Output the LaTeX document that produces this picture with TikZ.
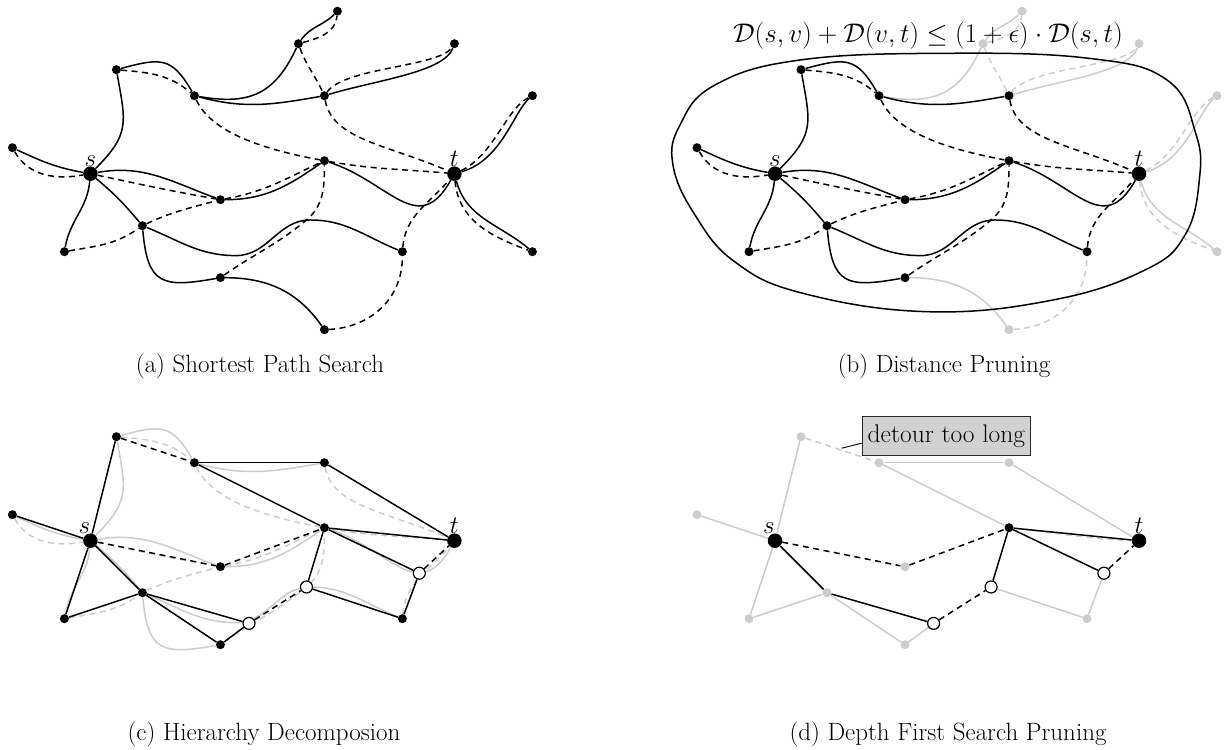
\RequirePackage{fix-cm}
\documentclass[tikz,border=0pt]{standalone}
\usepackage{fontspec}
\usetikzlibrary{calc}
\pgfdeclarelayer{edges}
\pgfsetlayers{edges,main}
\tikzset{
  sol/.style={draw=black, line width=1.5pt},
  dsh/.style={draw=black, line width=1.5pt, dash pattern=on 6pt off 4.5pt},
  gsol/.style={draw=black!20, line width=1.5pt},
  gdsh/.style={draw=black!20, line width=1.5pt, dash pattern=on 6pt off 4.5pt},
  dot/.style={circle, fill=black, inner sep=0pt, minimum size=9pt},
  gdot/.style={circle, fill=black!20, inner sep=0pt, minimum size=9pt},
  bigdot/.style={circle, fill=black, inner sep=0pt, minimum size=14.5pt},
  hollow/.style={circle, draw=black, fill=white, line width=1.2pt, inner sep=0pt, minimum size=12pt},
  txt/.style={font=\fontsize{25}{30}\selectfont, inner sep=0pt},
  capt/.style={txt, anchor=base},
}
\newcommand{\mkNodes}[4]{%
  \node[#2] (#1-A4) at (1,4) {};
  \node[#2] (#1-A5) at (4,3) {};
  \node[#2] (#1-A6) at (9,3) {};
  \node[#2] (#1-A8) at (-3,1) {};
  \node[#3] (#1-A9) at (9,0.5) {};
  \node[#2] (#1-A10) at (5,-1) {};
  \node[#2] (#1-A11) at (2,-2) {};
  \node[#2] (#1-A12) at (-1,-3) {};
  \node[#2] (#1-A13) at (12,-3) {};
  \node[#2] (#1-A15) at (5,-4) {};
  \node[bigdot, label distance=6.5pt, label={[txt, xshift=#4]above:$s$}] (#1-s) at (0,0) {};
  \node[bigdot, label distance=6.5pt, label={[txt]above:$t$}] (#1-t) at (14,0) {};
}
\newcommand{\mkOuterNodes}[2]{%
  \node[#2] (#1-A1) at (9.5,6.25) {};
  \node[#2] (#1-A2) at (8,5) {};
  \node[#2] (#1-A3) at (14,5) {};
  \node[#2] (#1-A7) at (17,3) {};
  \node[#2] (#1-A14) at (17,-3) {};
  \node[#2] (#1-A16) at (9,-6) {};
}
\newcommand{\mkHollow}[1]{%
  \node[hollow] (#1-H1) at (6.1,-3.18) {};
  \node[hollow] (#1-H2) at (8.31,-1.78) {};
  \node[hollow] (#1-H3) at (12.65,-1.25) {};
}
\newcommand{\mkInner}[3]{%
  \path[#2] (#1-A8) to[out=-25,in=170] (#1-s);
  \path[#3] (#1-A8) to[out=-60,in=190] (#1-s);
  \path[#2] (#1-s) to[out=45,in=-80,looseness=1.3] (#1-A4);
  \path[#2] (#1-A4) to[out=15,in=120,looseness=1.4] (#1-A5);
  \path[#3] (#1-A4) to[out=-5,in=140] (#1-A5);
  \path[#2] (#1-A5) to[out=-15,in=-170] (#1-A6);
  \path[#3] (#1-A6) .. controls (9.3,1.3) and (11.5,1.1) .. (#1-t);
  \path[#3] (#1-A5) .. controls (4.6,1.7) and (6.3,1.0) .. (#1-A9);
  \path[#2] (#1-s) to[out=10,in=160] (#1-A10);
  \path[#3] (#1-s) to[out=-12,in=170] (#1-A10);
  \path[#2] (#1-A10) to[out=0,in=-145] (#1-A9);
  \path[#3] (#1-A10) to[out=10,in=-155] (#1-A9);
  \path[#3] (#1-A11) to[out=25,in=-165] (#1-A10);
  \path[#3] (#1-A12) to[out=10,in=-145] (#1-A11);
  \path[#2] (#1-A9) .. controls (11.5,-0.3) and (12.6,-2.5) .. (#1-t);
  \path[#3] (#1-A9) to[out=-10,in=175] (#1-t);
  \path[#2] (#1-s) to[out=-95,in=80] (#1-A12);
  \path[#2] (#1-s) to[out=-40,in=130] (#1-A11);
  \path[#2] (#1-A11) to[out=-22,in=180] (5.6,-3.15) to[out=0,in=180] (8.45,-1.78) to[out=0,in=158] (#1-A13);
  \path[#2] (#1-A11) to[out=-85,in=-170,looseness=1.6] (#1-A15);
  \path[#3] (#1-A15) to[out=35,in=220] (8.31,-1.78) to[out=40,in=-90] (#1-A9);
  \path[#3] (#1-A13) to[out=85,in=-130] (#1-t);
}
\newcommand{\mkOuter}[3]{%
  \path[#2] (#1-A5) to[out=-10,in=-115,looseness=1.2] (#1-A2);
  \path[#2] (#1-A2) to[out=55,in=-135] (#1-A1);
  \path[#3] (#1-A2) to[out=15,in=-95] (#1-A1);
  \path[#2] (#1-A6) .. controls (11,3.6) and (13.6,3.9) .. (#1-A3);
  \path[#3] (#1-A6) .. controls (9.8,4.1) and (13.4,4.1) .. (#1-A3);
  \path[#3] (#1-A2) to[out=-70,in=115] (#1-A6);
  \path[#2] (#1-A15) to[out=0,in=125] (#1-A16);
  \path[#3] (#1-A16) .. controls (10.8,-5.9) and (12,-4.8) .. (#1-A13);
  \path[#2] (#1-t) .. controls (15.8,0.5) and (16.3,2.4) .. (#1-A7);
  \path[#3] (#1-t) .. controls (15.5,0.7) and (16.0,2.5) .. (#1-A7);
  \path[#2] (#1-t) to[out=-75,in=140] (#1-A14);
  \path[#3] (#1-t) to[out=-85,in=160] (#1-A14);
}
\begin{document}
\begin{tikzpicture}
\useasboundingbox (0,0) rectangle (1225pt,-749pt);

% (a) shortest path search
\begin{scope}[shift={(90.4pt,-173.7pt)}, x=26pt, y=26pt]
  \mkNodes{a}{dot}{dot}{0pt}
  \mkOuterNodes{a}{dot}
  \begin{pgfonlayer}{edges}
    \mkOuter{a}{sol}{dsh}
    \mkInner{a}{sol}{dsh}
  \end{pgfonlayer}
\end{scope}

% (b) distance pruning
\begin{scope}[shift={(775pt,-173.7pt)}, x=26pt, y=26pt]
  \mkNodes{b}{dot}{dot}{0pt}
  \mkOuterNodes{b}{gdot}
  \begin{pgfonlayer}{edges}
    \mkOuter{b}{gsol}{gdsh}
    \mkInner{b}{sol}{dsh}
  \end{pgfonlayer}
\end{scope}
\begin{pgfonlayer}{edges}
  \draw[line width=1.5pt] plot[smooth cycle, tension=0.7] coordinates {
    (945.7pt,-53.3pt) (1088.6pt,-58.3pt) (1167pt,-80pt) (1195.7pt,-133.3pt)
    (1199.3pt,-180pt) (1185pt,-235pt) (1145pt,-270pt) (1052.9pt,-300pt)
    (927.9pt,-311.7pt) (802.9pt,-293.3pt) (735pt,-262pt) (695pt,-215pt)
    (673pt,-165pt) (680pt,-125pt) (715pt,-85pt) (800pt,-60pt)};
\end{pgfonlayer}
\node[txt, anchor=base, font=\fontsize{27}{32}\selectfont] (b-formula) at (928pt,-43pt)
  {$\mathcal{D}(s,v)+\mathcal{D}(v,t)\leq(1+\epsilon)\cdot\mathcal{D}(s,t)$};

% (c) hierarchy decomposition
\begin{scope}[shift={(90.4pt,-540.7pt)}, x=26pt, y=26pt]
  \mkNodes{c}{dot}{dot}{-6pt}
  \mkHollow{c}
  \begin{pgfonlayer}{edges}
    \mkInner{c}{gsol}{gdsh}
    \path[sol] (c-A8) -- (c-s);
    \path[sol] (c-s) -- (c-A4);
    \path[dsh] (c-A4) -- (c-A5);
    \path[sol] (c-A5) -- (c-A6);
    \path[sol] (c-A5) -- (c-A9);
    \path[sol] (c-A6) -- (c-t);
    \path[sol] (c-A9) -- (c-t);
    \path[dsh] (c-s) -- (c-A10);
    \path[dsh] (c-A10) -- (c-A9);
    \path[sol] (c-s) -- (c-A12);
    \path[sol] (c-s) -- (c-A11);
    \path[sol] (c-A12) -- (c-A11);
    \path[sol] (c-A11) -- (c-H1);
    \path[sol] (c-A11) -- (c-A15);
    \path[sol] (c-A15) -- (c-H1);
    \path[dsh] (c-H1) -- (c-H2);
    \path[sol] (c-H2) -- (c-A9);
    \path[sol] (c-H2) -- (c-A13);
    \path[sol] (c-A13) -- (c-H3);
    \path[sol] (c-H3) -- (c-A9);
    \path[dsh] (c-H3) -- (c-t);
  \end{pgfonlayer}
\end{scope}

% (d) depth first search pruning
\begin{scope}[shift={(775pt,-540.7pt)}, x=26pt, y=26pt]
  \mkNodes{d}{gdot}{dot}{-6pt}
  \mkHollow{d}
  \begin{pgfonlayer}{edges}
    \path[gsol] (d-A8) -- (d-s);
    \path[gsol] (d-s) -- (d-A4);
    \path[gdsh] (d-A4) -- (d-A5);
    \path[gsol] (d-A5) -- (d-A6);
    \path[gsol] (d-A5) -- (d-A9);
    \path[gsol] (d-A6) -- (d-t);
    \path[gdsh] (d-A9) to[out=-6,in=178] (d-t);
    \path[gsol] (d-s) -- (d-A12);
    \path[gsol] (d-A12) -- (d-A11);
    \path[gsol] (d-A11) -- (d-A15);
    \path[gsol] (d-A15) -- (d-H1);
    \path[gsol] (d-H2) -- (d-A13);
    \path[gsol] (d-A13) -- (d-H3);
    \path[sol] (d-s) -- (d-A11);
    \path[sol] (d-A11) -- (d-H1);
    \path[dsh] (d-s) -- (d-A10);
    \path[dsh] (d-A10) -- (d-A9);
    \path[dsh] (d-H1) -- (d-H2);
    \path[sol] (d-H2) -- (d-A9);
    \path[sol] (d-A9) -- (d-t);
    \path[sol] (d-A9) -- (d-H3);
    \path[dsh] (d-H3) -- (d-t);
  \end{pgfonlayer}
\end{scope}
\node[txt, font=\fontsize{25.5}{30}\selectfont, draw=black!85, fill=black!18, line width=0.8pt, inner xsep=5.5pt, inner ysep=8.2pt]
  (d-box) at (946.4pt,-436.2pt) {detour too long};
\path ($(d-A4)!0.52!(d-A5)$) ++(0pt,2pt) coordinate (d-pin);
\draw[line width=0.9pt] (d-pin) -- ([yshift=-7pt]d-box.west);

% captions
\node[capt] (cap-a) at (260pt,-372pt) {(a) Shortest Path Search};
\node[capt] (cap-b) at (944pt,-372pt) {(b) Distance Pruning};
\node[capt] (cap-c) at (264pt,-740pt) {(c) Hierarchy Decomposion};
\node[capt] (cap-d) at (948pt,-740pt) {(d) Depth First Search Pruning};
\end{tikzpicture}
\end{document}
